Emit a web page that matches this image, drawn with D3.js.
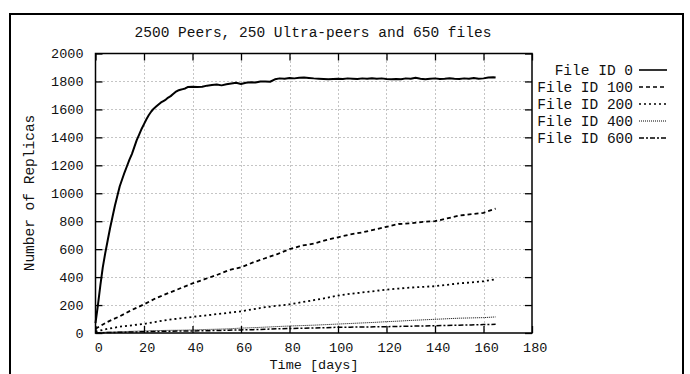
<!DOCTYPE html>
<html>
<head>
<meta charset="utf-8">
<script src="https://cdn.jsdelivr.net/npm/d3@7"></script>
<style>
  html, body { margin: 0; padding: 0; background: #fff; }
  svg { display: block; }
  text { font-family: "Courier New", "Liberation Mono", monospace; fill: #111; }
</style>
</head>
<body>
<svg id="chart" width="690" height="374"></svg>
<script>
// Replica counts over time for five files (2500 peers, 250 ultra-peers, 650 files)
const titleText = "2500 Peers, 250 Ultra-peers and 650 files";
const xLabel = "Time [days]";
const yLabel = "Number of Replicas";
const xTicks = [0, 20, 40, 60, 80, 100, 120, 140, 160, 180];
const yTicks = [0, 200, 400, 600, 800, 1000, 1200, 1400, 1600, 1800, 2000];
const seriesNames = ["File ID 0", "File ID 100", "File ID 200", "File ID 400", "File ID 600"];

const file0Days = [0,1,2,3,4,5,6,7,8,9,10,11,12,13,14,15,16,17,18,19,20,21,22,23,24,25,26,27,28,29,30,31,32,33,34,35,36,37,38,40,42,44,46,48,50,52,54,56,58,60,62,64,66,68,70,72,74,76,78,80,82,84,86,88,90,92,94,96,98,100,102,104,106,108,110,112,114,116,118,120,122,124,126,128,130,132,134,136,138,140,142,144,146,148,150,152,154,156,158,160,162,164,165];
const file0Vals = [70,200,340,470,570,660,750,830,910,980,1050,1100,1150,1195,1240,1280,1330,1380,1420,1460,1495,1530,1560,1585,1605,1620,1635,1650,1660,1670,1685,1695,1710,1725,1735,1740,1745,1750,1760,1762,1760,1762,1770,1775,1778,1772,1780,1785,1790,1782,1790,1795,1793,1800,1800,1798,1815,1822,1820,1825,1822,1826,1828,1825,1822,1820,1818,1815,1818,1820,1818,1822,1820,1817,1822,1820,1823,1820,1822,1818,1815,1818,1815,1822,1820,1826,1820,1815,1820,1822,1818,1820,1823,1820,1818,1822,1820,1824,1820,1822,1828,1830,1828];

const stepDays = [0,5,10,15,20,25,30,35,40,45,50,55,60,65,70,75,80,85,90,95,100,105,110,115,120,125,130,135,140,145,150,155,160,165];
const file100Vals = [30,80,120,165,205,250,285,320,355,385,415,450,470,505,535,565,600,625,640,665,685,705,720,740,760,780,785,795,800,820,840,850,860,890];
const file200Vals = [10,30,45,55,65,80,95,105,115,125,135,145,155,170,185,195,205,220,235,250,268,280,290,300,310,318,325,330,335,345,355,362,370,385];
const file400Vals = [3,6,9,12,15,17,19,20,22,25,27,30,35,38,42,46,50,53,56,60,64,68,72,76,81,85,90,94,98,102,106,108,110,115];
const file600Vals = [1,3,5,7,9,11,13,14,15,16,18,20,22,24,27,30,32,34,36,38,41,42,43,44,45,47,49,50,52,54,56,58,60,62];

const seriesData = [
  d3.zip(file0Days, file0Vals),
  d3.zip(stepDays, file100Vals),
  d3.zip(stepDays, file200Vals),
  d3.zip(stepDays, file400Vals),
  d3.zip(stepDays, file600Vals)
];
const seriesStyle = [
  { width: 2,   dash: null },
  { width: 1.8, dash: "4,3" },
  { width: 1.8, dash: "2,3" },
  { width: 1,   dash: "1,1" },
  { width: 1.5, dash: "5,2,2,2" }
];

const svg = d3.select("#chart");
svg.append("rect").attr("width", 690).attr("height", 374).attr("fill", "#fff");

// outer border
svg.append("rect")
  .attr("x", 10).attr("y", 14).attr("width", 673).attr("height", 420)
  .attr("fill", "none").attr("stroke", "#000").attr("stroke-width", 2);

const plot = { left: 95.5, right: 532, top: 53.5, bottom: 333 };
const x = d3.scaleLinear().domain([0, 180]).range([plot.left, plot.right]);
const y = d3.scaleLinear().domain([0, 2000]).range([plot.bottom, plot.top]);

// grid
const grid = svg.append("g").attr("stroke", "#8a8a8a").attr("stroke-width", 1).attr("stroke-dasharray", "1,3");
grid.selectAll("line.gx").data(xTicks.slice(1, -1)).join("line")
  .attr("x1", d => Math.round(x(d)) + 0.5).attr("x2", d => Math.round(x(d)) + 0.5)
  .attr("y1", plot.top).attr("y2", plot.bottom);
grid.selectAll("line.gy").data(yTicks.slice(1, -1)).join("line")
  .attr("y1", d => Math.round(y(d)) + 0.5).attr("y2", d => Math.round(y(d)) + 0.5)
  .attr("x1", plot.left).attr("x2", plot.right);

// axes with inward ticks, mirrored on top and right
const tickLen = 7;
const fontTick = "13.5px";
const fmt = d3.format("d");
const axB = svg.append("g").attr("transform", `translate(0,${plot.bottom})`)
  .call(d3.axisBottom(x).tickValues(xTicks).tickFormat(fmt).tickSizeInner(-tickLen).tickSizeOuter(0).tickPadding(9));
const axT = svg.append("g").attr("transform", `translate(0,${plot.top})`)
  .call(d3.axisTop(x).tickValues(xTicks).tickSizeInner(-tickLen).tickSizeOuter(0).tickFormat(""));
const axL = svg.append("g").attr("transform", `translate(${plot.left},0)`)
  .call(d3.axisLeft(y).tickValues(yTicks).tickFormat(fmt).tickSizeInner(-tickLen).tickSizeOuter(0).tickPadding(12));
const axR = svg.append("g").attr("transform", `translate(${plot.right},0)`)
  .call(d3.axisRight(y).tickValues(yTicks).tickSizeInner(-tickLen).tickSizeOuter(0).tickFormat(""));
[axB, axT, axL, axR].forEach(g => {
  g.select(".domain").remove();
  g.selectAll(".tick line").attr("stroke", "#000").attr("stroke-width", 1.3);
  g.selectAll("text").attr("font-family", null).attr("font-size", fontTick).attr("fill", "#111");
});
axB.selectAll("text").attr("dx", "0.2em");

// plot frame
svg.append("rect")
  .attr("x", plot.left).attr("y", plot.top)
  .attr("width", plot.right - plot.left).attr("height", plot.bottom - plot.top)
  .attr("fill", "none").attr("stroke", "#000").attr("stroke-width", 1.5);

// series
const line = d3.line().x(d => x(d[0])).y(d => y(d[1]));
svg.append("g").selectAll("path").data(seriesData).join("path")
  .attr("d", line)
  .attr("fill", "none")
  .attr("stroke", "#000")
  .attr("stroke-width", (d, i) => seriesStyle[i].width)
  .attr("stroke-dasharray", (d, i) => seriesStyle[i].dash)
  .attr("stroke-linejoin", "round");

// legend
const legend = svg.append("g");
const legY = i => 70 + i * 17;
legend.selectAll("text").data(seriesNames).join("text")
  .attr("x", 633).attr("y", (d, i) => legY(i)).attr("dy", "0.35em")
  .attr("text-anchor", "end").attr("font-size", "14.5px").text(d => d);
legend.selectAll("line").data(seriesNames).join("line")
  .attr("x1", 639).attr("x2", 667)
  .attr("y1", (d, i) => legY(i)).attr("y2", (d, i) => legY(i))
  .attr("stroke", "#000")
  .attr("stroke-width", (d, i) => Math.min(seriesStyle[i].width, 1.6))
  .attr("stroke-dasharray", (d, i) => seriesStyle[i].dash);

// titles
svg.append("text").attr("x", 313).attr("y", 37).attr("text-anchor", "middle")
  .attr("font-size", "14.5px").text(titleText);
svg.append("text").attr("x", 314).attr("y", 369).attr("text-anchor", "middle")
  .attr("font-size", "13.5px").text(xLabel);
svg.append("text").attr("transform", "translate(34,193) rotate(-90)")
  .attr("text-anchor", "middle").attr("font-size", "14.5px").text(yLabel);
</script>
</body>
</html>
